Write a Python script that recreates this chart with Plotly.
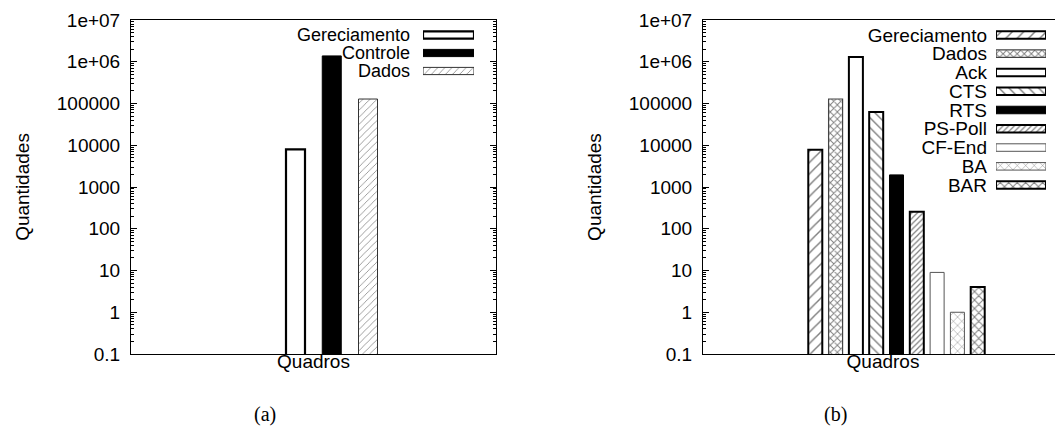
import plotly.graph_objects as go

# ---------------- data ----------------
category = ["Quadros"]
y_tickvals = [0.1, 1, 10, 100, 1000, 10000, 100000, 1e6, 1e7]
y_ticktext = ["0.1", "1", "10", "100", "1000", "10000", "100000", "1e+06", "1e+07"]

left_names = ["Gereciamento", "Controle", "Dados"]
left_values = [8000, 1380000, 128000]

right_names = ["Gereciamento", "Dados", "Ack", "CTS", "RTS", "PS-Poll", "CF-End", "BA", "BAR"]
right_values = [7800, 128000, 1300000, 63000, 1950, 255, 9, 1, 4]

captions = ["(a)", "(b)"]

# ---------------- styles ----------------
def sty(color="white", shape="", size=8, solidity=0.2, lw=2, lc="black"):
    return dict(color=color, shape=shape, size=size, solidity=solidity, lw=lw, lc=lc)

left_styles = {
    "Gereciamento": sty(lw=2.2),
    "Controle": sty(color="black", lw=1),
    "Dados": sty(shape="/", size=5, solidity=0.15, lw=1, lc="#333"),
}
right_styles = {
    "Gereciamento": sty(shape="/", size=8, solidity=0.18),
    "Dados": sty(shape="x", size=5, solidity=0.35, lw=1.2, lc="#444"),
    "Ack": sty(lw=2),
    "CTS": sty(shape="\\", size=7, solidity=0.2),
    "RTS": sty(color="black", lw=1),
    "PS-Poll": sty(shape="/", size=4, solidity=0.3),
    "CF-End": sty(lw=1, lc="#555"),
    "BA": sty(shape="x", size=6, solidity=0.15, lw=1, lc="#555"),
    "BAR": sty(shape="x", size=6, solidity=0.3, lw=2),
}

FONT = "Liberation Sans, Arial, sans-serif"
FS = 19
OFF = 8                    # page body margin in the browser
W, H = 1063 - OFF, 440 - OFF


def px_x(p):
    return (p - OFF) / W


def px_y(p):
    return (H - (p - OFF)) / H


def marker_of(s):
    m = dict(color=s["color"], line=dict(color=s["lc"], width=s["lw"]))
    if s["shape"]:
        m["pattern"] = dict(shape=s["shape"], fgcolor="black", bgcolor=s["color"],
                            size=s["size"], solidity=s["solidity"], fillmode="overlay")
    return m


fig = go.Figure()

panels = [
    dict(names=left_names, values=left_values, styles=left_styles, xa="x", ya="y",
         lxa="x3", lya="y3", bw=0.524),
    dict(names=right_names, values=right_values, styles=right_styles, xa="x2", ya="y2",
         lxa="x4", lya="y4", bw=0.69),
]

for p in panels:
    n = len(p["names"])
    for i, (name, val) in enumerate(zip(p["names"], p["values"])):
        fig.add_trace(go.Bar(
            x=category, y=[val], name=name, xaxis=p["xa"], yaxis=p["ya"],
            width=p["bw"], offset=(i - (n - 1) / 2) - p["bw"] / 2,
            marker=marker_of(p["styles"][name]), showlegend=False,
        ))
        # legend key sample
        fig.add_trace(go.Bar(
            y=[name], x=[1], orientation="h", xaxis=p["lxa"], yaxis=p["lya"],
            width=0.4, marker=marker_of(p["styles"][name]), showlegend=False,
            hoverinfo="skip",
        ))

minor_vals = [k * 10.0 ** e for e in range(-1, 7) for k in range(2, 10)]


def yaxis_common(domain, mirror):
    return dict(
        type="log", range=[-1, 7], domain=domain, automargin=False,
        tickmode="array", tickvals=y_tickvals, ticktext=y_ticktext,
        ticks="inside", ticklen=6, tickwidth=1, tickcolor="black",
        showline=True, linecolor="black", linewidth=1, mirror=mirror,
        showgrid=False, zeroline=False,
        minor=dict(tickvals=minor_vals, ticks="inside", ticklen=3, tickwidth=1,
                   tickcolor="black", showgrid=False),
        tickfont=dict(family=FONT, size=FS, color="black"),
        ticklabelstandoff=6,
        title=dict(text="Quantidades", font=dict(family=FONT, size=FS, color="black"),
                   standoff=22),
    )


def xaxis_common(domain, rng, anchor):
    return dict(
        type="category", domain=domain, range=rng, anchor=anchor, automargin=False,
        showticklabels=False, ticks="", showline=True, linecolor="black",
        linewidth=1, mirror=True, showgrid=False, zeroline=False,
        title=dict(text="Quadros", font=dict(family=FONT, size=FS, color="black"),
                   standoff=0),
    )


def legend_yaxis(domain, anchor, names, standoff, fs):
    return dict(
        domain=domain, anchor=anchor, type="category", automargin=False,
        categoryorder="array", categoryarray=names,
        tickmode="array", tickvals=names, ticktext=names,
        range=[len(names) - 0.5, -0.5], showline=False, ticks="",
        showgrid=False, zeroline=False, ticklabelstandoff=standoff,
        tickfont=dict(family=FONT, size=fs, color="black"),
    )


ydom = [px_y(354), px_y(20)]
cap_font = dict(family="Liberation Serif, serif", size=20, color="black")

fig.update_layout(
    width=W, height=H, margin=dict(l=0, r=0, t=0, b=0),
    paper_bgcolor="white", plot_bgcolor="white", barmode="overlay",
    xaxis=xaxis_common([px_x(131), px_x(496)], [-5.538, 4.531], "y"),
    yaxis=yaxis_common(ydom, "ticks") | dict(anchor="x"),
    xaxis2=xaxis_common([px_x(703), 1.0], [-9.53, 8.20], "y2"),
    yaxis2=yaxis_common(ydom, False) | dict(anchor="x2"),
    # legend key axes
    xaxis3=dict(domain=[px_x(423), px_x(474)], range=[0, 1], visible=False,
                anchor="y3", automargin=False),
    yaxis3=legend_yaxis([px_y(80), px_y(26)], "x3", left_names, 12, 18),
    xaxis4=dict(domain=[px_x(996), px_x(1046)], range=[0, 1], visible=False,
                anchor="y4", automargin=False),
    yaxis4=legend_yaxis([px_y(194.5), px_y(25.5)], "x4", right_names, 8, FS),
    annotations=[
        dict(text=captions[0], x=px_x(265), y=px_y(414), xref="paper", yref="paper",
             xanchor="center", yanchor="middle", showarrow=False, font=cap_font),
        dict(text=captions[1], x=px_x(835), y=px_y(414), xref="paper", yref="paper",
             xanchor="center", yanchor="middle", showarrow=False, font=cap_font),
    ],
)

fig.write_html("out.html")
